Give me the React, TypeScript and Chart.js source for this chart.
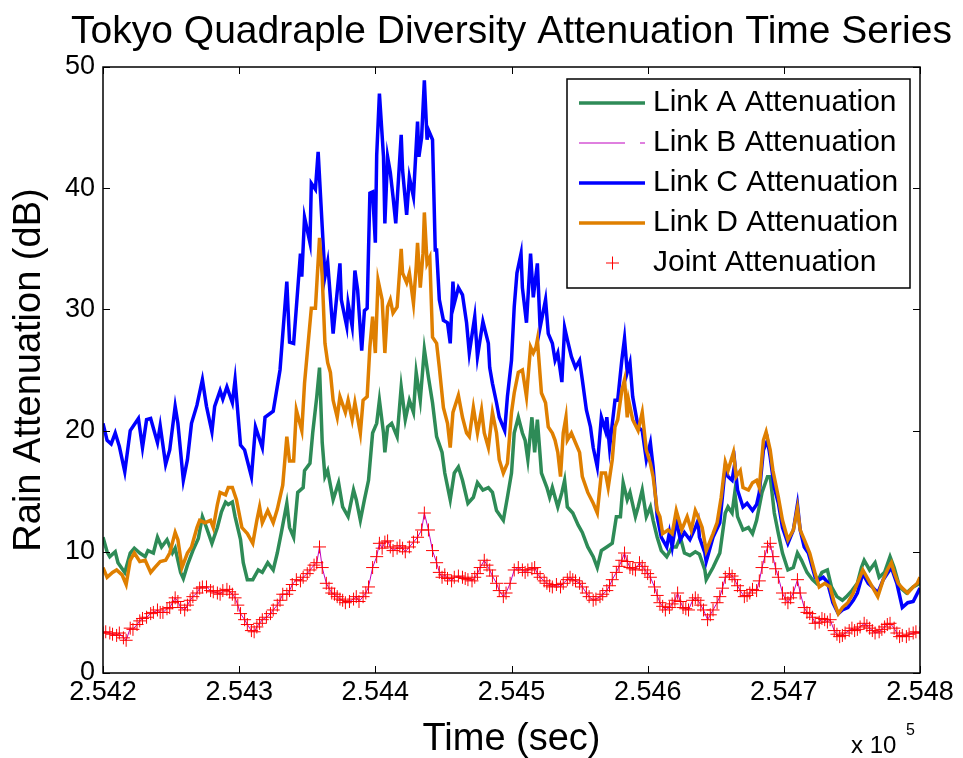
import React, { useEffect, useRef } from "react";
import { Chart, registerables } from "chart.js";

Chart.register(...registerables);

// ---- Text and axis definitions ----
const TITLE = "Tokyo Quadraple Diversity Attenuation Time Series";
const X_LABEL = "Time (sec)";
const Y_LABEL = "Rain Attenuation (dB)";
const X_EXPONENT_BASE = "x 10";
const X_EXPONENT = "5";
const T0 = 254200; // first second on the time axis
const T1 = 254800;
const X_TICKS = [254200, 254300, 254400, 254500, 254600, 254700, 254800];
const X_TICK_LABELS = ["2.542", "2.543", "2.544", "2.545", "2.546", "2.547", "2.548"];
const Y_TICKS = [0, 10, 20, 30, 40, 50];
const Y_TICK_LABELS = ["0", "10", "20", "30", "40", "50"];

// ---- Series: time offsets (s after T0) and attenuation (dB) ----
const linkATimes = [0, 3, 5, 9, 11, 16, 20, 23, 27, 31, 33, 37, 40, 43, 47, 51, 53, 57, 59, 62, 66, 70, 73, 76, 80, 84, 87, 90, 92, 95, 97, 101, 103, 106, 110, 114, 117, 121, 125, 128, 131, 135, 137, 140, 143, 147, 148, 152, 154, 157, 159, 161, 163, 165, 169, 173, 176, 180, 184, 186, 189, 192, 195, 198, 201, 203, 206, 207, 209, 212, 216, 219, 222, 225, 228, 230, 233, 236, 239, 242, 245, 249, 251, 255, 258, 261, 264, 268, 272, 275, 279, 283, 286, 289, 294, 297, 300, 302, 305, 308, 310, 312, 315, 317, 319, 322, 326, 328, 330, 334, 337, 339, 341, 345, 349, 352, 356, 360, 363, 366, 370, 374, 377, 380, 382, 385, 387, 391, 393, 396, 399, 402, 404, 407, 410, 414, 418, 421, 424, 427, 431, 435, 438, 442, 443, 448, 453, 457, 459, 462, 464, 466, 470, 474, 477, 480, 484, 488, 490, 493, 496, 499, 503, 507, 510, 513, 517, 521, 524, 528, 532, 535, 539, 543, 546, 550, 554, 557, 559, 563, 567, 570, 574, 578, 581, 585, 590, 595, 600];
const linkAValues = [11.2, 10, 9.6, 10, 9.1, 8.3, 9.9, 10.3, 9.9, 9.6, 10.1, 9.9, 11.2, 10.4, 11, 9.9, 10.3, 8.3, 7.8, 8.9, 10.1, 11.1, 12.9, 12, 10.7, 12, 13.3, 14.1, 13.9, 14.1, 12.9, 11, 9.1, 7.7, 7.7, 8.5, 8.3, 9.1, 8.5, 9.9, 11.6, 14, 12, 11.2, 14.9, 15.3, 16.7, 17.3, 19.8, 22.8, 25.2, 19, 16.2, 16.7, 14.3, 15.7, 13.7, 12.9, 15.1, 14.3, 12.6, 14.3, 15.9, 19.8, 20.6, 22.5, 19.8, 18.2, 20.3, 20.6, 19.5, 23.6, 20.9, 22.5, 21.5, 24.8, 22.5, 26.7, 24.4, 22.3, 19.5, 18.2, 16.5, 14.3, 16.5, 17, 15.9, 14, 14.5, 15.7, 15.1, 15.3, 14.9, 13.4, 12.6, 14.5, 16.5, 19.8, 21.1, 19.8, 19.2, 17.6, 21.1, 18.2, 20.9, 16.5, 15.3, 14.5, 15.3, 13.7, 14.9, 15.9, 13.7, 13.2, 12.2, 11.6, 10.4, 9.6, 8.7, 10.1, 10.4, 10.7, 12.9, 12.9, 15.7, 14.3, 14.9, 12.9, 13.7, 15.1, 12.9, 13.7, 12.6, 11.2, 10.1, 9.6, 10.4, 10.4, 11.2, 9.9, 9.7, 10, 9.8, 8.5, 7.7, 8.7, 9.9, 13.2, 13.7, 13.2, 14.9, 12.9, 11.8, 12, 11.5, 12.6, 14.9, 16.2, 16.2, 13.2, 11.5, 9.9, 8.5, 8.7, 9.9, 9.3, 8.3, 7.7, 7.4, 8.3, 8.5, 7.1, 6.3, 6, 6.3, 6.8, 7.4, 8.7, 9.3, 8.5, 9.1, 7.9, 8.3, 9.6, 8.7, 7.1, 6.6, 7.1, 7.4];

const linkCTimes = [0, 3, 6, 9, 12, 16, 20, 26, 29, 32, 35, 40, 42, 46, 49, 53, 55, 59, 62, 65, 69, 73, 76, 80, 82, 86, 88, 91, 95, 97, 101, 104, 109, 112, 117, 119, 125, 130, 135, 137, 140, 145, 146, 148, 152, 153, 156, 158, 161, 163, 165, 169, 174, 175, 179, 180, 183, 185, 187, 190, 192, 194, 196, 198, 200, 201, 203, 206, 207, 209, 211, 213, 215, 219, 220, 223, 225, 228, 231, 232, 234, 236, 238, 239, 242, 244, 245, 247, 250, 253, 255, 257, 258, 261, 264, 267, 269, 273, 275, 279, 283, 284, 286, 289, 291, 295, 297, 300, 302, 304, 307, 308, 311, 314, 316, 319, 321, 325, 327, 330, 332, 334, 337, 339, 341, 344, 347, 350, 352, 355, 358, 360, 363, 366, 369, 370, 372, 376, 378, 381, 383, 385, 387, 389, 393, 396, 399, 402, 404, 407, 410, 414, 416, 418, 421, 424, 427, 431, 435, 437, 438, 442, 443, 448, 453, 457, 459, 462, 464, 466, 470, 473, 477, 480, 482, 485, 488, 490, 493, 496, 499, 503, 507, 510, 512, 515, 518, 523, 526, 529, 532, 536, 540, 543, 547, 551, 554, 558, 562, 565, 569, 573, 576, 579, 583, 587, 591, 595, 600];
const linkCValues = [20.6, 19.2, 18.9, 19.8, 18.7, 16.6, 20, 21, 18.6, 20.9, 21, 19, 20.4, 17.2, 18.4, 22, 20.6, 15.9, 17.6, 20.6, 22.1, 24.2, 22, 19.9, 22, 23.3, 22.6, 23.6, 22.3, 24.2, 18.8, 18.4, 16.2, 20.3, 18.6, 21.1, 21.6, 25, 32.3, 27.3, 27.2, 34.6, 32.7, 37.6, 35.5, 40.4, 39.9, 43, 36.8, 32.7, 33.9, 28, 33.8, 30.8, 28.6, 30.5, 28.6, 33.2, 31.6, 26.6, 29.9, 30.1, 39.6, 39.7, 35.5, 42.7, 47.8, 42.6, 37.1, 42.6, 41.3, 39.3, 37.1, 44.4, 41.5, 37.8, 40.9, 39.3, 45.5, 42.6, 44.2, 48.9, 44, 44.8, 44, 34.9, 34.9, 30.8, 29.1, 28.9, 27.2, 32.3, 30.5, 31.8, 31.2, 28.9, 26.4, 29.4, 26.1, 29, 27.2, 25.2, 23.9, 22.3, 21.1, 20, 22.8, 25.8, 30.2, 33, 34.6, 31.8, 28.9, 34.6, 31, 33.8, 28.5, 30.8, 28, 27.2, 25.8, 26.4, 24, 28.5, 27.5, 26.1, 25.2, 25.8, 24.2, 21.7, 20.3, 18.6, 17, 21.1, 20, 21.1, 18.6, 22.5, 22.5, 25.8, 27.6, 24.8, 25.6, 22.8, 20.3, 20, 17.6, 19, 17, 12.9, 11.2, 10.4, 11.6, 10.4, 12.6, 11, 11.6, 11, 12, 12.6, 11.2, 9.9, 9.2, 11.2, 12.4, 17, 16.2, 15.9, 17.3, 15.1, 13.7, 14, 13.4, 13.9, 14.9, 18.4, 19.2, 17.8, 15.3, 14, 12, 10.7, 11.8, 13.9, 11.8, 10.4, 9.9, 7.9, 7.7, 7.9, 7.5, 5.8, 4.9, 5.2, 5.4, 6, 6.6, 8.2, 7.4, 7.1, 6.6, 7.7, 8.2, 8.7, 7.4, 5.4, 5.8, 5.9, 7];

const linkDTimes = [0, 3, 7, 10, 14, 17, 20, 23, 27, 31, 35, 38, 42, 46, 49, 53, 55, 58, 62, 65, 69, 71, 75, 79, 81, 84, 86, 90, 92, 95, 98, 102, 106, 110, 113, 115, 117, 121, 125, 128, 132, 135, 137, 140, 142, 146, 148, 150, 153, 156, 159, 161, 163, 165, 167, 169, 172, 174, 178, 180, 183, 185, 189, 191, 194, 196, 198, 200, 202, 205, 207, 209, 211, 213, 216, 219, 220, 223, 225, 228, 230, 231, 233, 235, 236, 238, 240, 242, 245, 247, 250, 253, 255, 257, 261, 264, 267, 269, 272, 275, 278, 280, 283, 286, 289, 291, 294, 297, 300, 302, 305, 308, 311, 314, 316, 318, 319, 322, 325, 327, 330, 332, 334, 336, 338, 340, 341, 344, 347, 350, 352, 356, 360, 363, 366, 369, 371, 374, 376, 378, 381, 383, 385, 386, 389, 393, 396, 399, 402, 404, 407, 409, 411, 415, 418, 421, 425, 429, 432, 435, 437, 440, 443, 448, 451, 454, 457, 459, 463, 465, 468, 470, 474, 477, 480, 482, 485, 487, 490, 492, 496, 499, 503, 507, 510, 512, 515, 519, 523, 526, 530, 534, 537, 540, 543, 547, 551, 554, 558, 562, 565, 569, 573, 576, 579, 581, 584, 587, 591, 595, 598, 600];
const linkDValues = [8.7, 7.9, 8.3, 8.5, 8.1, 7.3, 9.3, 9.9, 9.2, 9.3, 8.3, 8.7, 9.2, 9.3, 9.9, 11.6, 11, 8.7, 9.9, 10.4, 12, 12.6, 12.4, 12.6, 12, 13.9, 14.9, 14.7, 15.3, 15.3, 14.3, 12, 11.5, 10.7, 12.6, 13.7, 12.4, 13.4, 12.4, 13.5, 15.5, 19.5, 17.5, 17.5, 21.7, 20, 23.9, 26.4, 30.1, 30.1, 35.9, 32.7, 27.2, 25.6, 24.8, 22.5, 21.1, 22.8, 21.5, 22.5, 20.9, 22.3, 19.8, 22.5, 22.8, 26.9, 29.4, 26.4, 32.4, 30.8, 26.4, 30.2, 30.8, 29.7, 30.2, 35, 33, 32.2, 33, 30.5, 33.5, 35.5, 31.8, 34.6, 38, 33.8, 34.3, 27.7, 27.2, 25.2, 21.9, 20.6, 18.6, 21.5, 22.9, 21.1, 19.8, 19.5, 21.9, 19.8, 21.7, 19.8, 18.6, 21.5, 19.8, 17.6, 16.5, 17.3, 21.5, 23.1, 24.8, 25, 22.8, 26.9, 26.4, 26.9, 27.5, 23.1, 22.3, 20.3, 19.8, 19.2, 18.2, 16.2, 19.8, 21.1, 19.2, 19.8, 19, 18.2, 16.2, 14.9, 14, 13.2, 16.5, 16.5, 15.3, 17.6, 20.3, 20.9, 23.3, 24.2, 21.1, 22.5, 20.9, 20, 21.5, 18.4, 17.3, 16.2, 13.4, 12.9, 11.5, 11.8, 11.5, 13.4, 11.8, 12.9, 11.8, 13.4, 12.9, 12, 10.1, 11.5, 12.4, 14.5, 17.4, 16.7, 18.2, 16.2, 16.7, 15.3, 15.1, 15.7, 15.9, 15.3, 19.2, 19.9, 18.4, 16.7, 14.5, 12.6, 11, 11.8, 13.6, 11.8, 11, 9.9, 8.2, 7.1, 7.4, 7.1, 5.8, 4.9, 5.4, 5.8, 6.6, 7.4, 8.5, 7.7, 7.1, 6.3, 7.7, 8.5, 9.1, 8.3, 7.4, 7, 6.6, 7.1, 7.4, 7.9];

const jointTimes = [0, 2, 5, 7, 10, 12, 15, 17, 20, 22, 25, 27, 29, 32, 35, 37, 40, 42, 44, 47, 49, 51, 53, 55, 57, 60, 62, 64, 66, 69, 71, 73, 76, 79, 81, 84, 86, 88, 91, 93, 95, 97, 99, 101, 104, 106, 109, 111, 113, 115, 117, 120, 123, 125, 128, 130, 132, 135, 137, 139, 142, 145, 147, 150, 152, 155, 157, 159, 161, 164, 166, 168, 170, 172, 174, 176, 178, 181, 184, 186, 188, 191, 193, 195, 198, 201, 203, 205, 207, 209, 211, 213, 216, 218, 220, 222, 225, 228, 231, 234, 236, 239, 242, 245, 247, 249, 251, 253, 256, 258, 261, 264, 266, 268, 271, 273, 275, 277, 280, 282, 284, 286, 289, 291, 294, 296, 299, 302, 305, 308, 310, 312, 315, 317, 319, 321, 324, 326, 328, 330, 333, 336, 338, 341, 343, 345, 347, 350, 352, 355, 357, 360, 362, 365, 367, 370, 372, 374, 377, 379, 381, 383, 385, 387, 389, 391, 394, 396, 398, 400, 402, 405, 407, 409, 411, 413, 416, 418, 420, 422, 424, 426, 428, 430, 433, 435, 437, 439, 441, 444, 446, 448, 451, 453, 455, 457, 460, 462, 464, 466, 468, 471, 473, 475, 477, 480, 482, 484, 486, 488, 490, 492, 494, 496, 499, 501, 503, 505, 507, 510, 512, 515, 517, 519, 521, 523, 526, 528, 530, 532, 534, 537, 539, 541, 543, 545, 548, 550, 552, 554, 556, 559, 561, 563, 565, 567, 570, 572, 574, 576, 578, 581, 583, 585, 587, 590, 592, 595, 597, 600];
const jointValues = [3.3, 3.4, 3.3, 3.2, 3.1, 3.3, 2.9, 2.7, 3.7, 3.6, 4, 4.3, 4.5, 4.6, 4.9, 5, 5.2, 5, 5, 5.3, 5.4, 5.8, 6.2, 5.9, 5.4, 5.2, 5.6, 6, 6.3, 6.6, 7, 7.1, 7.1, 6.8, 6.7, 6.6, 6.5, 6.8, 6.9, 6.7, 6.5, 6.2, 5.6, 4.9, 4.4, 4, 3.5, 3.4, 3.8, 4.1, 4.4, 4.6, 4.9, 5.2, 5.6, 6, 6.5, 6.5, 6.8, 7.3, 7.7, 7.6, 7.9, 8.2, 8.5, 8.9, 9.1, 10.4, 8.7, 7.4, 7, 6.6, 6.5, 6.3, 6.1, 6, 5.8, 5.9, 6.1, 6.3, 5.9, 6.3, 6.6, 7.1, 8.7, 9.6, 10.7, 10.3, 10.8, 10.9, 10.4, 10.1, 10.3, 10.5, 10.3, 10, 10.4, 10.8, 11.2, 11.8, 13.2, 11.8, 10.1, 9.1, 8.3, 7.9, 8.1, 7.8, 7.6, 7.9, 8, 7.9, 7.8, 7.7, 7.6, 7.9, 8.2, 8.7, 9.3, 8.9, 8.5, 8, 7.4, 6.8, 6.3, 6.6, 7.4, 8.5, 8.7, 8.5, 8.3, 8.5, 8.6, 8.7, 8.2, 7.9, 7.6, 7.4, 7.2, 7.1, 7.3, 7.1, 7.4, 7.7, 7.9, 7.7, 7.6, 7.4, 7.1, 6.6, 6.3, 6, 6.1, 6.3, 6.5, 6.8, 7.2, 7.7, 8.3, 8.8, 9.3, 9.9, 9.2, 8.7, 8.6, 8.5, 9.1, 8.8, 8.5, 8.2, 7.9, 7.1, 6.4, 5.8, 5.5, 5.2, 5.4, 5.7, 6, 6.6, 5.9, 5.4, 5.3, 5.2, 6, 6.2, 6, 5.6, 5.2, 4.4, 4.8, 5.2, 5.8, 6.3, 7, 7.9, 8.2, 8, 7.7, 7.2, 6.8, 6.3, 6.4, 6.6, 6.9, 6.8, 7.6, 8.7, 9.6, 10.4, 10.7, 9.6, 8.6, 7.9, 6.6, 6.1, 5.8, 6.2, 6.6, 7.7, 6.6, 5.4, 5, 4.9, 4.6, 4.1, 4.2, 4.5, 4.4, 4.2, 4.4, 3.5, 3.2, 3, 3.1, 3.3, 3.5, 3.7, 3.5, 3.6, 3.8, 4.1, 3.9, 3.7, 3.5, 3.3, 3.4, 3.6, 3.8, 4, 4.1, 3.7, 3.3, 3, 3.1, 3, 3.2, 3.3, 3.4, 3.3];

// Link B is the lowest link for the whole event, so it coincides with the joint (minimum) attenuation.
const linkBTimes = jointTimes;
const linkBValues = jointValues;

const FONT = '"Liberation Sans", Arial, Helvetica, sans-serif';

const COLORS = {
  a: "#2E8B57",
  b: "#BF00BF",
  c: "#0000FF",
  d: "#DF7F00",
  joint: "#FF0000",
};

type LegendItem = { label: string; color: string; kind: "line" | "dash" | "cross" };
const LEGEND_ITEMS: LegendItem[] = [
  { label: "Link A Attenuation", color: COLORS.a, kind: "line" },
  { label: "Link B Attenuation", color: COLORS.b, kind: "dash" },
  { label: "Link C Attenuation", color: COLORS.c, kind: "line" },
  { label: "Link D Attenuation", color: COLORS.d, kind: "line" },
  { label: "Joint Attenuation", color: COLORS.joint, kind: "cross" },
];

const toPoints = (times: number[], values: number[]) =>
  times.map((t, i) => ({ x: T0 + t, y: values[i] }));

function drawText(
  ctx: CanvasRenderingContext2D,
  text: string,
  x: number,
  y: number,
  size: number,
  align: CanvasTextAlign,
  baseline: CanvasTextBaseline,
  rotated = false
) {
  ctx.save();
  ctx.translate(x, y);
  if (rotated) ctx.rotate(-Math.PI / 2);
  ctx.font = `${size}px ${FONT}`;
  ctx.textAlign = align;
  ctx.textBaseline = baseline;
  ctx.fillStyle = "#000";
  ctx.fillText(text, 0, 0);
  ctx.restore();
}

// Boxed axes with inward ticks on all four sides, tick labels, titles and legend.
const framePlugin = {
  id: "frame",
  afterDraw(chart: any) {
    const { ctx, chartArea: a, scales } = chart;
    const xs = scales.x;
    const ys = scales.y;
    const tickLen = 7;
    ctx.save();
    ctx.strokeStyle = "#000";
    ctx.lineWidth = 1.5;
    ctx.strokeRect(a.left, a.top, a.right - a.left, a.bottom - a.top);
    ctx.lineWidth = 1;
    ctx.beginPath();
    X_TICKS.forEach((t) => {
      const px = Math.round(xs.getPixelForValue(t)) + 0.5;
      ctx.moveTo(px, a.bottom);
      ctx.lineTo(px, a.bottom - tickLen);
      ctx.moveTo(px, a.top);
      ctx.lineTo(px, a.top + tickLen);
    });
    Y_TICKS.forEach((v) => {
      const py = Math.round(ys.getPixelForValue(v)) + 0.5;
      ctx.moveTo(a.left, py);
      ctx.lineTo(a.left + tickLen, py);
      ctx.moveTo(a.right, py);
      ctx.lineTo(a.right - tickLen, py);
    });
    ctx.stroke();

    X_TICKS.forEach((t, i) => {
      drawText(ctx, X_TICK_LABELS[i], xs.getPixelForValue(t), a.bottom + 6, 27, "center", "top");
    });
    Y_TICKS.forEach((v, i) => {
      drawText(ctx, Y_TICK_LABELS[i], a.left - 8, ys.getPixelForValue(v), 27, "right", "middle");
    });

    const cx = (a.left + a.right) / 2;
    drawText(ctx, TITLE, cx, 43, 39, "center", "alphabetic");
    drawText(ctx, X_LABEL, cx, 740, 38, "center", "middle");
    drawText(ctx, Y_LABEL, 30, (a.top + a.bottom) / 2, 38, "center", "middle", true);
    drawText(ctx, X_EXPONENT_BASE, 851, 746, 24, "left", "middle");
    drawText(ctx, X_EXPONENT, 906, 731, 16, "left", "middle");

    // Legend
    const lx = 567, ly = 79, lw = 343, lh = 209;
    ctx.fillStyle = "#fff";
    ctx.fillRect(lx, ly, lw, lh);
    ctx.strokeStyle = "#000";
    ctx.lineWidth = 1.5;
    ctx.strokeRect(lx, ly, lw, lh);
    LEGEND_ITEMS.forEach((item, i) => {
      const rowY = 103 + i * 40;
      ctx.save();
      ctx.strokeStyle = item.color;
      if (item.kind === "line") {
        ctx.lineWidth = 3.5;
        ctx.beginPath();
        ctx.moveTo(579, rowY);
        ctx.lineTo(645, rowY);
        ctx.stroke();
      } else if (item.kind === "dash") {
        ctx.lineWidth = 1;
        ctx.setLineDash([46, 15]);
        ctx.beginPath();
        ctx.moveTo(579, rowY);
        ctx.lineTo(645, rowY);
        ctx.stroke();
      } else {
        ctx.lineWidth = 1;
        ctx.beginPath();
        ctx.moveTo(606, rowY);
        ctx.lineTo(619, rowY);
        ctx.moveTo(612.5, rowY - 6.5);
        ctx.lineTo(612.5, rowY + 6.5);
        ctx.stroke();
      }
      ctx.restore();
      drawText(ctx, item.label, 653, rowY, 30, "left", "middle");
    });
    ctx.restore();
  },
};

export default function App() {
  const canvasRef = useRef<HTMLCanvasElement | null>(null);

  useEffect(() => {
    document.body.style.margin = "0";
    const canvas = canvasRef.current;
    if (!canvas) return;
    const lineDataset = (label: string, times: number[], values: number[], color: string, order: number) => ({
      label,
      data: toPoints(times, values),
      borderColor: color,
      backgroundColor: color,
      borderWidth: 3.5,
      pointRadius: 0,
      tension: 0,
      order,
    });
    const chart = new Chart(canvas, {
      type: "line",
      data: {
        datasets: [
          lineDataset("Link A Attenuation", linkATimes, linkAValues, COLORS.a, 5),
          {
            ...lineDataset("Link B Attenuation", linkBTimes, linkBValues, COLORS.b, 4),
            borderWidth: 1,
          },
          lineDataset("Link C Attenuation", linkCTimes, linkCValues, COLORS.c, 3),
          lineDataset("Link D Attenuation", linkDTimes, linkDValues, COLORS.d, 2),
          {
            label: "Joint Attenuation",
            data: toPoints(jointTimes, jointValues),
            showLine: false,
            pointStyle: "cross",
            pointRadius: 6.5,
            pointBorderWidth: 1,
            pointBorderColor: COLORS.joint,
            pointBackgroundColor: COLORS.joint,
            borderColor: COLORS.joint,
            order: 1,
          } as any,
        ],
      },
      options: {
        responsive: false,
        animation: false,
        devicePixelRatio: 1,
        layout: { padding: { left: 103, top: 67, right: 43, bottom: 85 } },
        plugins: {
          legend: { display: false },
          title: { display: false },
          tooltip: { enabled: false },
        },
        scales: {
          x: { type: "linear", min: T0, max: T1, display: false },
          y: { type: "linear", min: 0, max: 50, display: false },
        },
      },
      plugins: [framePlugin],
    });
    return () => chart.destroy();
  }, []);

  return (
    <div style={{ width: 963, height: 758, background: "#fff" }}>
      <canvas ref={canvasRef} width={963} height={758} style={{ display: "block" }} />
    </div>
  );
}
